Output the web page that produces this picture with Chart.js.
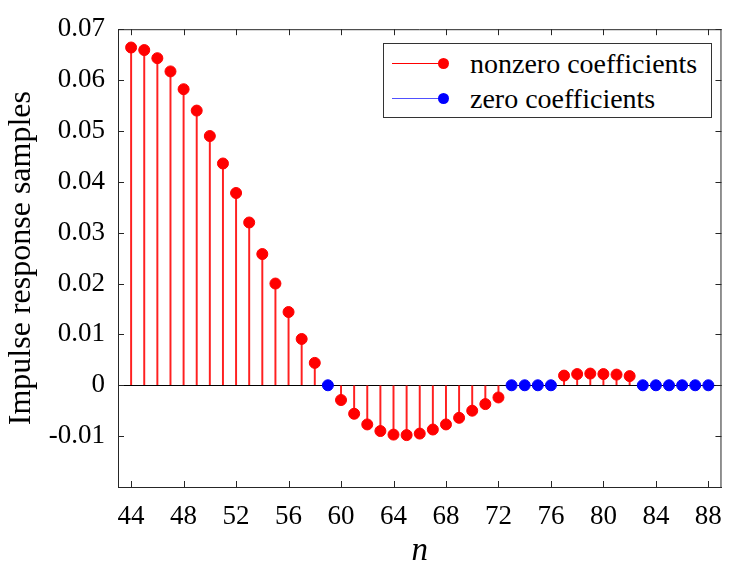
<!DOCTYPE html>
<html>
<head>
<meta charset="utf-8">
<script src="https://cdn.jsdelivr.net/npm/chart.js@4.4.1/dist/chart.umd.min.js"></script>
<style>
  html, body { margin: 0; padding: 0; background: #fff; }
  #wrap { position: relative; width: 736px; height: 566px; }
  #legend {
    position: absolute; left: 383px; top: 43px; width: 327px; height: 73px;
    border: 1px solid #333; background: #fff;
    font-family: "Liberation Serif", "Times New Roman", serif; font-size: 28px; color: #000;
  }
  .row { position: absolute; left: 0; height: 32px; line-height: 32px; width: 100%; }
  .row .ln { position: absolute; left: 8px; top: 15px; width: 51px; height: 0; border-top: 1px solid #f00; }
  .row .dot { position: absolute; left: 54px; top: 10px; width: 11px; height: 11px; border-radius: 50%; }
  .row .txt { position: absolute; left: 86px; top: 0; white-space: nowrap; }
</style>
</head>
<body>
<div id="wrap">
  <canvas id="stemChart" width="736" height="566"></canvas>
  <div id="legend">
    <div class="row" style="top:4px"><span class="ln"></span><span class="dot" style="background:#f00"></span><span class="txt">nonzero coefficients</span></div>
    <div class="row" style="top:39px"><span class="ln" style="border-top-color:#5050ff"></span><span class="dot" style="background:#00f"></span><span class="txt">zero coefficients</span></div>
  </div>
</div>
<script>
// sample index and impulse response values
const nValues = [44, 45, 46, 47, 48, 49, 50, 51, 52, 53, 54, 55, 56, 57, 58, 59,
  60, 61, 62, 63, 64, 65, 66, 67, 68, 69, 70, 71, 72, 73, 74, 75, 76,
  77, 78, 79, 80, 81, 82, 83, 84, 85, 86, 87, 88];
const hValues = [0.0664, 0.0659, 0.0643, 0.0617, 0.0582, 0.0540, 0.0490, 0.0436, 0.0378, 0.0320,
  0.0258, 0.0200, 0.0144, 0.0091, 0.0044, 0,
  -0.0029, -0.0056, -0.0077, -0.0090, -0.0097, -0.0098, -0.0095, -0.0087, -0.0077, -0.0064,
  -0.0050, -0.0037, -0.0024, 0, 0, 0, 0,
  0.0019, 0.0022, 0.0023, 0.0022, 0.0021, 0.0018, 0, 0, 0, 0, 0, 0];
const xTicks = [44, 48, 52, 56, 60, 64, 68, 72, 76, 80, 84, 88];
const yTicks = [-0.02, -0.01, 0, 0.01, 0.02, 0.03, 0.04, 0.05, 0.06, 0.07];

const nonzeroPts = [];
const zeroPts = [];
nValues.forEach(function(n, i) {
    if (hValues[i] === 0) zeroPts.push({ x: n, y: 0 });
    else nonzeroPts.push({ x: n, y: hValues[i] });
});

const axisColor = '#262626';
const serif = '"Liberation Serif", "Times New Roman", serif';

// inward tick marks and top/right box lines, MATLAB style
const boxTicks = {
    id: 'boxTicks',
    afterDraw(chart) {
        const c = chart.ctx, a = chart.chartArea;
        const xs = chart.scales.x, ys = chart.scales.y;
        const len = 6;
        c.save();
        c.strokeStyle = axisColor;
        c.lineWidth = 1;
        c.beginPath();
        c.moveTo(a.left, a.top + 0.5); c.lineTo(a.right, a.top + 0.5);
        c.moveTo(a.right - 0.5, a.top); c.lineTo(a.right - 0.5, a.bottom);
        xs.ticks.forEach(function(t) {
            const px = Math.round(xs.getPixelForValue(t.value)) + 0.5;
            c.moveTo(px, a.bottom); c.lineTo(px, a.bottom - len);
            c.moveTo(px, a.top); c.lineTo(px, a.top + len);
        });
        ys.ticks.forEach(function(t) {
            const py = Math.round(ys.getPixelForValue(t.value)) + 0.5;
            c.moveTo(a.left, py); c.lineTo(a.left + len, py);
            c.moveTo(a.right, py); c.lineTo(a.right - len, py);
        });
        c.stroke();
        c.restore();
    }
};

const ctx = document.getElementById('stemChart').getContext('2d');
const stemChart = new Chart(ctx, {
    type: 'bar',
    data: {
        datasets: [
            { type: 'scatter', label: 'nonzero markers', data: nonzeroPts, backgroundColor: '#ff0000', borderColor: '#ff0000', pointRadius: 5.5, pointHoverRadius: 5.5, order: 0 },
            { type: 'scatter', label: 'zero markers', data: zeroPts, backgroundColor: '#0000ff', borderColor: '#0000ff', pointRadius: 5.5, pointHoverRadius: 5.5, order: 0 },
            { type: 'bar', label: 'nonzero coefficients', data: nonzeroPts, backgroundColor: '#ff2020', barThickness: 1.3, order: 1 }
        ]
    },
    options: {
        responsive: false,
        animation: false,
        events: [],
        layout: { padding: { left: 0, right: 3, top: 20, bottom: 0 } },
        plugins: { legend: { display: false }, tooltip: { enabled: false } },
        scales: {
            x: {
                type: 'linear',
                offset: false,
                min: 43,
                max: 89,
                afterBuildTicks: function(scale) { scale.ticks = xTicks.map(function(v) { return { value: v }; }); },
                afterFit: function(scale) { scale.height = 79; },
                grid: { display: false, drawTicks: false },
                border: { display: true, color: axisColor, width: 1 },
                ticks: { color: '#000', padding: 14, maxRotation: 0, font: { family: serif, size: 27 } },
                title: { display: true, text: 'n', color: '#000', padding: { top: 0, bottom: -2 }, font: { family: serif, size: 33, style: 'italic', lineHeight: 1 } }
            },
            y: {
                min: -0.02,
                max: 0.07,
                afterBuildTicks: function(scale) { scale.ticks = yTicks.map(function(v) { return { value: v }; }); },
                afterFit: function(scale) { scale.width = 118; },
                grid: {
                    drawTicks: false,
                    lineWidth: 1,
                    color: function(c) { return c.tick && Math.abs(c.tick.value) < 1e-9 ? '#000' : 'rgba(0,0,0,0)'; }
                },
                border: { display: true, color: axisColor, width: 1 },
                ticks: {
                    color: '#000',
                    padding: 13,
                    font: { family: serif, size: 27 },
                    callback: function(v) {
                        const r = Math.round(v * 100) / 100;
                        if (r === -0.02) return '';
                        return r === 0 ? '0' : r.toFixed(2);
                    }
                },
                title: { display: true, text: 'Impulse response samples', color: '#000', padding: { top: 6, bottom: 0 }, font: { family: serif, size: 32, lineHeight: 1 } }
            }
        }
    },
    plugins: [boxTicks]
});
</script>
</body>
</html>
